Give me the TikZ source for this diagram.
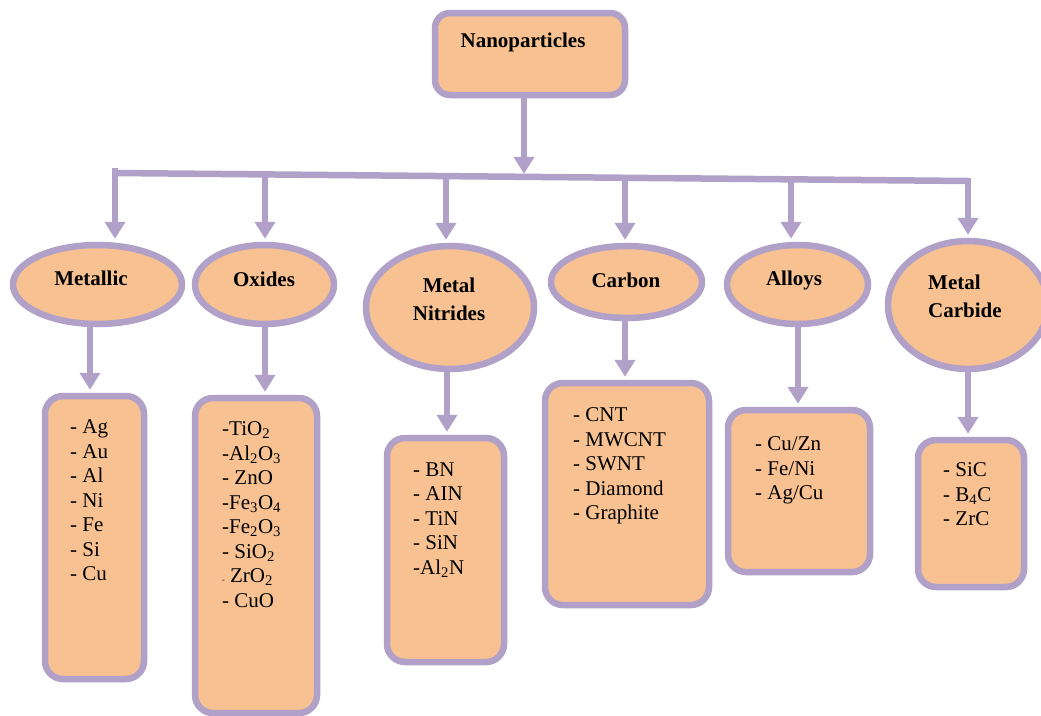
\documentclass[tikz,border=0pt]{standalone}
\usepackage{fontspec}
\setmainfont{Liberation Serif}
\usetikzlibrary{arrows.meta,shapes.geometric,calc}
\definecolor{peach}{HTML}{F8C191}
\definecolor{lav}{HTML}{B1A0C7}
\begin{document}
\begin{tikzpicture}[x=1pt,y=-1pt,
  ell/.style={ellipse,draw=lav,fill=peach,line width=6.5pt,inner sep=0pt},
  lbox/.style={rectangle,rounded corners=18pt,draw=lav,fill=peach,line width=6.5pt,inner sep=0pt},
  head/.style={font=\fontsize{21}{28}\selectfont\bfseries,inner sep=0pt,align=center},
  list/.style={font=\fontsize{21}{24.5}\selectfont,inner sep=0pt,align=left,anchor=north west},
  conn/.style={draw=lav,line width=6.5pt},
  arr/.style={conn,-{Triangle[width=20pt,length=17pt]},shorten >=3pt},
]
\useasboundingbox (0,0) rectangle (1041,715);

% top node
\node[lbox,rounded corners=15pt,minimum width=190pt,minimum height=82pt] (np) at (530,54) {};
\node[head] (npt) at (523,42) {Nanoparticles};

% category ellipses
\node[ell,minimum width=169pt,minimum height=79pt] (me) at (97.5,284.5) {};
\node[ell,minimum width=139pt,minimum height=79pt] (ox) at (264.5,284.5) {};
\node[ell,minimum width=168pt,minimum height=123pt] (ni) at (450,307.5) {};
\node[ell,minimum width=151pt,minimum height=72pt] (ca) at (626.5,282) {};
\node[ell,minimum width=141pt,minimum height=79pt] (al) at (797.5,284.5) {};
\node[ell,minimum width=160pt,minimum height=128pt] (mc) at (968,305) {};

\node[head] (met) at (91,278) {Metallic};
\node[head] (oxt) at (264,279) {Oxides};
\node[head] (nit) at (449,299) {Metal\\Nitrides};
\node[head] (cat) at (626,280) {Carbon};
\node[head] (alt) at (794,280) {Alloys};
\node[head,align=left,anchor=west] (mct) at (928,296) {Metal\\Carbide};

% list boxes
\node[lbox,minimum width=99pt,minimum height=283pt] (mb) at (94.5,537.5) {};
\node[lbox,minimum width=122pt,minimum height=315pt] (ob) at (256,555.5) {};
\node[lbox,minimum width=117pt,minimum height=224pt] (nb) at (445.5,550) {};
\node[lbox,minimum width=164pt,minimum height=222pt] (cb) at (627,494) {};
\node[lbox,minimum width=142pt,minimum height=162pt] (ab) at (799,491) {};
\node[lbox,minimum width=106pt,minimum height=147pt] (kb) at (971,513.5) {};

\node[list] (mbt) at (70,419.5) {- Ag\\- Au\\- Al\\- Ni\\- Fe\\- Si\\- Cu};
\node[list] (obt) at (222,421.5) {-TiO\textsubscript{2}\\-Al\textsubscript{2}O\textsubscript{3}\\- ZnO\\-Fe\textsubscript{3}O\textsubscript{4}\\-Fe\textsubscript{2}O\textsubscript{3}\\- SiO\textsubscript{2}\\{\fontsize{8}{8}\selectfont -} ZrO\textsubscript{2}\\- CuO};
\node[list] (nbt) at (413,462.5) {- BN\\- AIN\\- TiN\\- SiN\\-Al\textsubscript{2}N};
\node[list] (cbt) at (573,407.5) {- CNT\\- MWCNT\\- SWNT\\- Diamond\\- Graphite};
\node[list] (abt) at (755,436.5) {- Cu/Zn\\- Fe/Ni\\- Ag/Cu};
\node[list] (kbt) at (943,462.5) {- SiC\\- B\textsubscript{4}C\\- ZrC};

% bus coordinates
\coordinate (bL) at (115,173);
\coordinate (b1) at (115,168);
\coordinate (b2) at (265,174.4);
\coordinate (b3) at (446,176.1);
\coordinate (b0) at (524,176.8);
\coordinate (b4) at (625,177.8);
\coordinate (b5) at (791,179.3);
\coordinate (b6) at (968,181);

% connectors
\draw[arr] (np.south -| b0) -- (b0);
\draw[conn] (bL) -- (b6);
\draw[arr] (b1) -- (b1 |- me.north);
\draw[arr] (b2) -- (b2 |- ox.north);
\draw[arr] (b3) -- (b3 |- ni.north);
\draw[arr] (b4) -- (b4 |- ca.north);
\draw[arr] (b5) -- (b5 |- al.north);
\draw[arr] ($(b6)+(0,-3)$) -- (b6 |- mc.north);

\coordinate (d1) at (90,0);
\coordinate (d2) at (265,0);
\coordinate (d3) at (447,0);
\coordinate (d4) at (625,0);
\coordinate (d5) at (798,0);
\coordinate (d6) at (968,0);
\draw[arr] (me.south -| d1) -- (mb.north -| d1);
\draw[arr] (ox.south -| d2) -- (ob.north -| d2);
\draw[arr] (ni.south -| d3) -- (nb.north -| d3);
\draw[arr] (ca.south -| d4) -- (cb.north -| d4);
\draw[arr] (al.south -| d5) -- (ab.north -| d5);
\draw[arr] (mc.south -| d6) -- (kb.north -| d6);
\end{tikzpicture}
\end{document}
